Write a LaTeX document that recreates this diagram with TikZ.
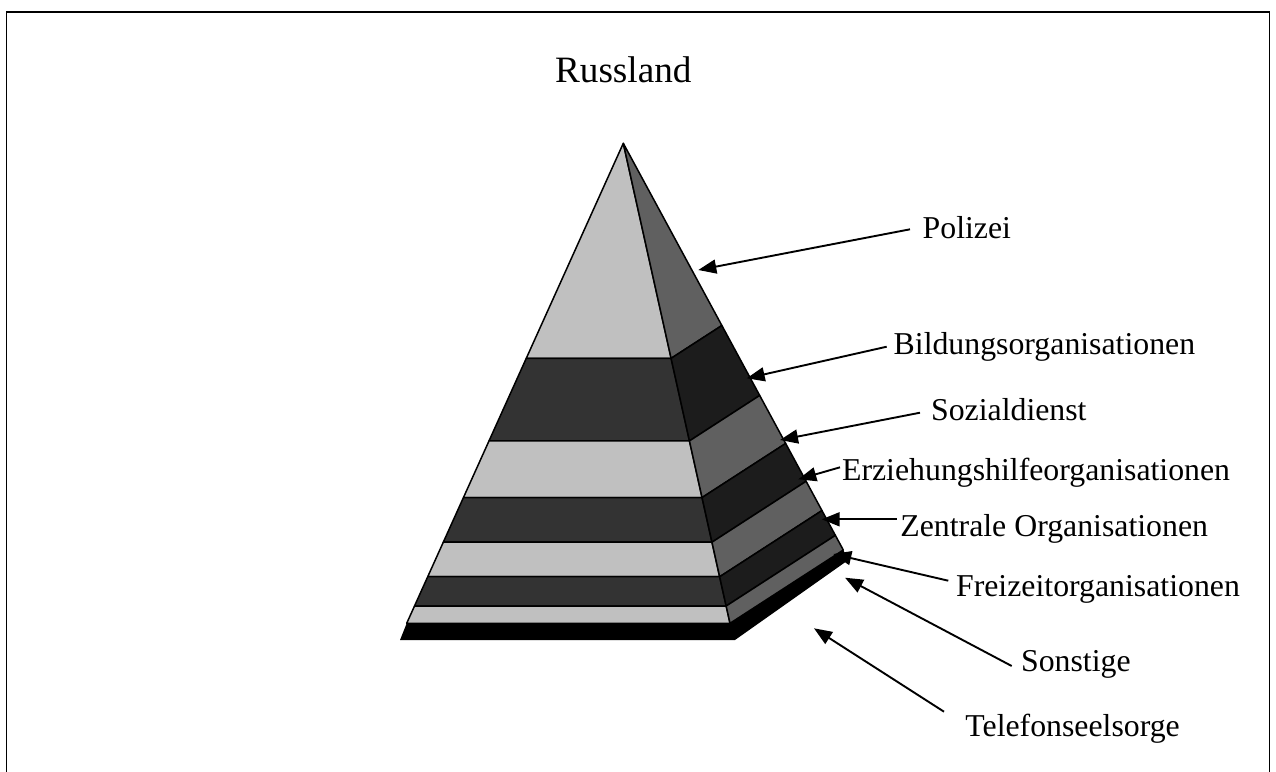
\documentclass[tikz,border=0pt]{standalone}
\usepackage{fontspec}
\setmainfont{Liberation Serif}
\usepackage{xcolor}
\usepackage{tikz}
\usetikzlibrary{calc,arrows.meta}

\definecolor{lightband}{HTML}{C0C0C0}
\definecolor{darkband}{HTML}{333333}
\definecolor{sideband}{HTML}{606060}
\definecolor{sidedark}{HTML}{1C1C1C}

\tikzset{
  lbl/.style={anchor=base west, inner sep=0pt, font=\fontsize{15.9pt}{19pt}\selectfont},
  pointer/.style={->, line width=0.95pt},
  band/.style={draw=black, line width=0.75pt, line join=round}
}

\begin{document}
\begin{tikzpicture}[x=0.5pt, y=-0.5pt, >={Triangle[length=9pt,width=7pt]}]
            \useasboundingbox (0,0) rectangle (1276,772);
            % frame, open at the bottom
            \draw[line width=0.9pt] (6.5,772) -- (6.5,12) -- (1269.5,12) -- (1269.5,772);

            \node[anchor=base, inner sep=0pt, font=\fontsize{18.6pt}{22pt}\selectfont] (title) at (623.3,82.3) {Russland};

            % pyramid corners
            \coordinate (apex) at (623.3,143.3);
            \coordinate (fl) at (406.7,623.3);
            \coordinate (fr) at (730,623.3);
            \coordinate (br) at (843.3,550);

            % base plate
            \fill[black] (fl) -- (fr) -- (br) -- (848.3,560) -- (735,640) -- (400,640) -- cycle;

            % bands: front face and right face
            \foreach \a/\b/\cf/\cs in {0/0.448/lightband/sideband, 0.448/0.620/darkband/sidedark,
                0.620/0.738/lightband/sideband, 0.738/0.831/darkband/sidedark,
                0.831/0.903/lightband/sideband, 0.903/0.964/darkband/sidedark, 0.964/1/lightband/sideband}{
              \filldraw[band, fill=\cf] ($(apex)!\a!(fl)$) -- ($(apex)!\b!(fl)$) -- ($(apex)!\b!(fr)$) -- ($(apex)!\a!(fr)$) -- cycle;
              \filldraw[band, fill=\cs] ($(apex)!\a!(fr)$) -- ($(apex)!\b!(fr)$) -- ($(apex)!\b!(br)$) -- ($(apex)!\a!(br)$) -- cycle;
            }

            % arrow targets
            \coordinate (tPol) at (698.3,270);
            \coordinate (tBild) at (746.7,378.3);
            \coordinate (tSoz) at (780,440);
            \coordinate (tErz) at (798.3,479.3);
            \coordinate (tZen) at (821.7,519.3);
            \coordinate (tFrei) at (833.3,554);
            \coordinate (tSon) at (845,577.7);
            \coordinate (tTel) at (814,628.3);

            \node[lbl] (pol) at (922.3,238.3) {Polizei};
            \node[lbl] (bild) at (893.3,354) {Bildungsorganisationen};
            \node[lbl] (soz) at (930.7,420.7) {Sozialdienst};
            \node[lbl] (erz) at (841.7,480) {Erziehungshilfeorganisationen};
            \node[lbl] (zen) at (900,536.7) {Zentrale Organisationen};
            \node[lbl] (frei) at (955.7,596.7) {Freizeitorganisationen};
            \node[lbl] (son) at (1020.7,671.7) {Sonstige};
            \node[lbl] (tel) at (965,736.7) {Telefonseelsorge};

            \draw[pointer] ($(pol.base west)+(-12.3,-9)$) -- (tPol);
            \draw[pointer] ($(bild.base west)+(-6.6,-7.3)$) -- (tBild);
            \draw[pointer] ($(soz.base west)+(-10.7,-8)$) -- (tSoz);
            \draw[pointer] ($(erz.base west)+(-1.7,-12.7)$) -- (tErz);
            \draw[pointer] ($(zen.base west)+(-3.3,-17.4)$) -- (tZen);
            \draw[pointer] ($(frei.base west)+(-7.4,-16)$) -- (tFrei);
            \draw[pointer] ($(son.base west)+(-9,-5.7)$) -- (tSon);
            \draw[pointer] ($(tel.base west)+(-21,-25)$) -- (tTel);
        \end{tikzpicture}
\end{document}
